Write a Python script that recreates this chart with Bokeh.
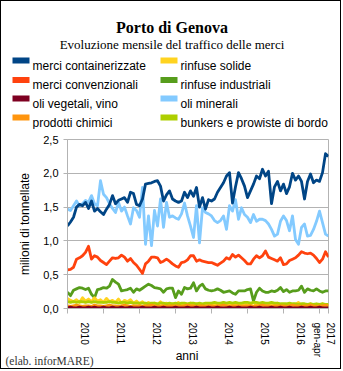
import math
from bokeh.plotting import figure
from bokeh.core.properties import value
from bokeh.models import (FixedTicker, CustomJSTickFormatter, Range1d, ColumnDataSource)
from bokeh.embed import file_html
from bokeh.resources import INLINE

# ---------------- data (milioni di tonnellate, monthly Jan 2010 - Apr 2017) -------------
months = list(range(88))
year_labels = ["2010", "2011", "2012", "2013", "2014", "2015", "2016", "2017\ngen-apr"]
year_label_pos = [5.5, 17.5, 29.5, 41.5, 53.5, 65.5, 77.5, 85.5]
year_bounds = [0, 12, 24, 36, 48, 60, 72, 84, 87]
y_ticks = [0, 0.5, 1.0, 1.5, 2.0, 2.5]

merci_containerizzate = [
    1.22, 1.28, 1.35, 1.50, 1.54, 1.52, 1.57, 1.48, 1.59, 1.44, 1.48, 1.43,
    1.39, 1.47, 1.54, 1.67, 1.55, 1.60, 1.62, 1.64, 1.57, 1.72, 1.70, 1.54,
    1.52, 1.62, 1.84, 1.85, 1.86, 1.88, 1.89, 1.81, 1.59, 1.68, 1.74, 1.62,
    1.59, 1.57, 1.59, 1.72, 1.64, 1.74, 1.66, 1.79, 1.50, 1.64, 1.47, 1.61,
    1.59, 1.62, 1.72, 1.79, 1.86, 1.96, 2.01, 1.56, 1.80, 2.01, 1.92, 1.81,
    1.64, 1.74, 1.84, 1.96, 1.92, 2.06, 1.96, 2.03, 1.55, 1.80, 1.88, 1.74,
    1.84, 1.70, 1.80, 2.00, 1.90, 1.96, 1.88, 1.62, 1.88, 1.99, 1.86, 1.90,
    1.88, 2.01, 2.29, 2.25]

oli_minerali = [
    1.47, 1.45, 1.52, 1.59, 1.52, 1.55, 1.60, 1.57, 1.67, 1.55, 1.52, 1.89,
    1.69, 1.64, 1.55, 1.48, 1.42, 1.57, 1.44, 1.50, 1.37, 1.25, 1.49, 1.45,
    1.35, 1.79, 0.95, 1.37, 0.93, 1.45, 1.22, 1.62, 1.20, 1.57, 1.35, 1.37,
    1.34, 1.32, 1.40, 1.56, 1.37, 1.22, 1.05, 1.52, 0.97, 1.49, 1.42, 1.40,
    1.37, 1.30, 1.27, 1.30, 1.37, 1.17, 1.52, 1.44, 1.61, 1.32, 1.49, 1.39,
    1.35, 1.27, 1.39, 1.29, 1.32, 1.32, 1.30, 1.25, 1.17, 1.07, 1.10, 1.29,
    1.37, 1.30, 1.15, 1.37, 1.02, 0.95, 1.20, 1.25, 1.07, 1.08, 1.17, 1.29,
    1.44, 1.27, 1.10, 1.07]

merci_convenzionali = [
    0.57, 0.58, 0.61, 0.73, 0.75, 0.78, 0.83, 0.92, 0.73, 0.78, 0.76, 0.71,
    0.68, 0.65, 0.70, 0.75, 0.74, 0.75, 0.79, 0.76, 0.70, 0.74, 0.68, 0.64,
    0.58, 0.52, 0.66, 0.70, 0.76, 0.76, 0.75, 0.68, 0.70, 0.73, 0.70, 0.66,
    0.63, 0.61, 0.68, 0.69, 0.72, 0.78, 0.78, 0.70, 0.72, 0.70, 0.69, 0.68,
    0.68, 0.66, 0.64, 0.67, 0.70, 0.75, 0.73, 0.80, 0.76, 0.79, 0.75, 0.71,
    0.66, 0.66, 0.73, 0.78, 0.75, 0.78, 0.85, 0.76, 0.74, 0.72, 0.70, 0.75,
    0.65, 0.66, 0.71, 0.73, 0.75, 0.79, 0.84, 0.82, 0.81, 0.82, 0.79, 0.74,
    0.68, 0.73, 0.84, 0.76]

rinfuse_industriali = [
    0.24, 0.19, 0.27, 0.29, 0.31, 0.30, 0.28, 0.30, 0.21, 0.16, 0.28, 0.29,
    0.31, 0.30, 0.33, 0.43, 0.39, 0.36, 0.26, 0.27, 0.28, 0.30, 0.24, 0.29,
    0.27, 0.30, 0.33, 0.36, 0.34, 0.31, 0.30, 0.29, 0.24, 0.29, 0.30, 0.30,
    0.16, 0.26, 0.21, 0.31, 0.29, 0.30, 0.38, 0.26, 0.33, 0.36, 0.29, 0.27,
    0.26, 0.27, 0.29, 0.27, 0.24, 0.25, 0.26, 0.23, 0.21, 0.26, 0.26, 0.26,
    0.28, 0.29, 0.11, 0.24, 0.30, 0.26, 0.24, 0.24, 0.26, 0.25, 0.27, 0.31,
    0.25, 0.28, 0.24, 0.26, 0.26, 0.27, 0.33, 0.24, 0.29, 0.27, 0.26, 0.29,
    0.26, 0.24, 0.26, 0.26]

rinfuse_solide = [
    0.15, 0.12, 0.10, 0.13, 0.09, 0.16, 0.11, 0.14, 0.10, 0.16, 0.11, 0.13,
    0.09, 0.15, 0.10, 0.12, 0.09, 0.14, 0.08, 0.12, 0.10, 0.13, 0.08, 0.11,
    0.07, 0.10, 0.06, 0.09, 0.07, 0.08, 0.06, 0.10, 0.06, 0.08, 0.05, 0.07,
    0.06, 0.09, 0.05, 0.07, 0.06, 0.08, 0.05, 0.07, 0.05, 0.06, 0.05, 0.07,
    0.05, 0.06, 0.07, 0.05, 0.09, 0.05, 0.06, 0.05, 0.07, 0.05, 0.06, 0.08,
    0.05, 0.06, 0.09, 0.05, 0.06, 0.05, 0.07, 0.05, 0.06, 0.05, 0.08, 0.05,
    0.06, 0.05, 0.07, 0.05, 0.06, 0.09, 0.05, 0.06, 0.05, 0.07, 0.05, 0.06,
    0.05, 0.07, 0.05, 0.06]

bunkers = [
    0.10, 0.09, 0.10, 0.09, 0.10, 0.10, 0.09, 0.10, 0.09, 0.10, 0.09, 0.09,
    0.09, 0.09, 0.10, 0.09, 0.09, 0.08, 0.09, 0.09, 0.08, 0.09, 0.08, 0.08,
    0.08, 0.08, 0.08, 0.07, 0.08, 0.08, 0.07, 0.08, 0.08, 0.07, 0.08, 0.07,
    0.08, 0.07, 0.08, 0.08, 0.07, 0.08, 0.08, 0.07, 0.08, 0.07, 0.08, 0.08,
    0.08, 0.09, 0.08, 0.08, 0.09, 0.08, 0.09, 0.08, 0.09, 0.08, 0.08, 0.09,
    0.09, 0.08, 0.09, 0.09, 0.08, 0.09, 0.08, 0.08, 0.09, 0.08, 0.08, 0.07,
    0.07, 0.07, 0.08, 0.07, 0.07, 0.06, 0.07, 0.07, 0.06, 0.07, 0.06, 0.07,
    0.06, 0.07, 0.06, 0.06]

prodotti_chimici = [
    0.04, 0.03, 0.04, 0.05, 0.04, 0.03, 0.04, 0.04, 0.03, 0.05, 0.04, 0.04,
    0.03, 0.04, 0.05, 0.04, 0.04, 0.03, 0.04, 0.05, 0.04, 0.03, 0.04, 0.04,
    0.04, 0.03, 0.04, 0.04, 0.05, 0.04, 0.03, 0.04, 0.04, 0.03, 0.04, 0.04,
    0.04, 0.04, 0.03, 0.04, 0.05, 0.04, 0.04, 0.03, 0.04, 0.04, 0.03, 0.04,
    0.04, 0.03, 0.04, 0.04, 0.05, 0.04, 0.03, 0.04, 0.04, 0.04, 0.03, 0.04,
    0.04, 0.04, 0.03, 0.04, 0.04, 0.05, 0.04, 0.04, 0.03, 0.04, 0.04, 0.04,
    0.04, 0.03, 0.04, 0.05, 0.04, 0.04, 0.03, 0.04, 0.04, 0.05, 0.04, 0.03,
    0.04, 0.04, 0.05, 0.04]

oli_vegetali_vino = [
    0.01, 0.02, 0.01, 0.01, 0.02, 0.01, 0.01, 0.02, 0.01, 0.02, 0.01, 0.01,
    0.02, 0.01, 0.01, 0.02, 0.01, 0.01, 0.02, 0.01, 0.01, 0.02, 0.01, 0.01,
    0.01, 0.02, 0.01, 0.01, 0.01, 0.02, 0.01, 0.01, 0.02, 0.01, 0.01, 0.01,
    0.02, 0.01, 0.01, 0.01, 0.02, 0.01, 0.01, 0.02, 0.01, 0.01, 0.01, 0.02,
    0.01, 0.01, 0.02, 0.01, 0.01, 0.01, 0.02, 0.01, 0.01, 0.02, 0.01, 0.01,
    0.01, 0.02, 0.01, 0.01, 0.02, 0.01, 0.01, 0.01, 0.02, 0.01, 0.01, 0.02,
    0.01, 0.01, 0.02, 0.01, 0.01, 0.01, 0.02, 0.01, 0.01, 0.02, 0.01, 0.01,
    0.02, 0.01, 0.01, 0.01]

title_text = "Porto di Genova"
subtitle_text = "Evoluzione mensile del traffico delle merci"
x_axis_title = "anni"
y_axis_title = "milioni di tonnellate"
source_note = "(elab. inforMARE)"

legend_col1 = ["merci containerizzate", "merci convenzionali", "oli vegetali, vino",
               "prodotti chimici"]
legend_col2 = ["rinfuse solide", "rinfuse industriali", "oli minerali",
               "bunkers e prowiste di bordo"]
colors = {"merci containerizzate": "#004586", "merci convenzionali": "#ff420e",
          "oli vegetali, vino": "#7e0021", "prodotti chimici": "#ff950e",
          "rinfuse solide": "#ffd320", "rinfuse industriali": "#579d1c",
          "oli minerali": "#83caff", "bunkers e prowiste di bordo": "#aecf00"}
values = {"merci containerizzate": merci_containerizzate,
          "merci convenzionali": merci_convenzionali,
          "oli vegetali, vino": oli_vegetali_vino,
          "prodotti chimici": prodotti_chimici,
          "rinfuse solide": rinfuse_solide,
          "rinfuse industriali": rinfuse_industriali,
          "oli minerali": oli_minerali,
          "bunkers e prowiste di bordo": bunkers}

W = 341
H_HEAD = 129
H_CHART = 240
H_FOOT = 24


def blank_figure(h, transparent=False):
    f = figure(width=W, height=h, output_backend="svg", toolbar_location=None,
               title_location=None,
               x_range=Range1d(0, W), y_range=Range1d(h, 0),
               min_border=0, min_border_left=0, min_border_right=0,
               min_border_top=0, min_border_bottom=0)
    f.axis.visible = False
    f.grid.visible = False
    f.outline_line_color = None
    if transparent:
        f.background_fill_alpha = 0
        f.border_fill_alpha = 0
    else:
        f.background_fill_color = "white"
        f.border_fill_color = "white"
    return f


# ---------------- header: title, subtitle, legend (1 data unit = 1 px) ----------------
head = blank_figure(H_HEAD)
head.styles = {"vertical-align": "top", "border-top": "1px solid black",
               "border-left": "1px solid black", "border-right": "1px solid black"}
head.text(x=[170.5], y=[25.5], text=[title_text], text_align="center",
          text_baseline="alphabetic", text_font=value("Liberation Serif"),
          text_font_style="bold", text_font_size="16px", text_color="black")
head.text(x=[170.5], y=[43], text=[subtitle_text], text_align="center",
          text_baseline="alphabetic", text_font=value("Liberation Serif"),
          text_font_size="13px", text_color="black")

row_centers = [59, 78.5, 97, 116]
for col_names, sw_left in ((legend_col1, 11), (legend_col2, 159)):
    lsrc = ColumnDataSource(dict(
        left=[sw_left] * len(col_names), right=[sw_left + 17] * len(col_names),
        top=[c - 3 for c in row_centers], bottom=[c + 3 for c in row_centers],
        color=[colors[n] for n in col_names],
        tx=[sw_left + 20] * len(col_names), ty=[c + 5 for c in row_centers],
        label=col_names))
    head.quad(left="left", right="right", top="top", bottom="bottom", source=lsrc,
              fill_color="color", line_color=None)
    head.text(x="tx", y="ty", text="label", source=lsrc, text_align="left",
              text_baseline="alphabetic", text_font=value("Liberation Sans"),
              text_font_size="12px", text_color="black")

# ---------------- chart ----------------
p = figure(width=W, height=H_CHART, output_backend="svg", toolbar_location=None,
           title_location=None,
           x_range=Range1d(0, 87), y_range=Range1d(0, 2.5),
           min_border_left=66, min_border_right=14, min_border_top=10,
           min_border_bottom=61, background_fill_color="white",
           border_fill_color="white")
p.styles = {"vertical-align": "top", "border-bottom": "1px solid black",
            "border-left": "1px solid black", "border-right": "1px solid black"}
p.outline_line_color = "#b3b3b3"
p.xgrid.visible = False
p.ygrid.grid_line_color = "#b3b3b3"
p.ygrid.ticker = FixedTicker(ticks=y_ticks)

p.yaxis.ticker = FixedTicker(ticks=y_ticks)
p.yaxis.formatter = CustomJSTickFormatter(code="return tick.toFixed(1).replace('.', ',');")
p.yaxis.axis_line_color = "#b3b3b3"
p.yaxis.major_tick_line_color = "#b3b3b3"
p.yaxis.major_tick_out = 4
p.yaxis.major_tick_in = 0
p.yaxis.minor_tick_line_color = None
p.yaxis.major_label_standoff = 5
p.yaxis.major_label_text_font = "Liberation Sans"
p.yaxis.major_label_text_font_size = "11px"
p.yaxis.major_label_text_color = "black"
p.yaxis.axis_label = y_axis_title
p.yaxis.axis_label_text_font = "Liberation Sans"
p.yaxis.axis_label_text_font_size = "12px"
p.yaxis.axis_label_text_font_style = "normal"
p.yaxis.axis_label_text_color = "black"
p.yaxis.axis_label_standoff = 8

p.xaxis.ticker = FixedTicker(ticks=year_label_pos, minor_ticks=year_bounds)
p.xaxis.formatter = CustomJSTickFormatter(args=dict(labels=year_labels),
                                          code="return labels[index];")
p.xaxis.axis_line_color = "#b3b3b3"
p.xaxis.major_tick_line_color = None
p.xaxis.major_tick_out = 0
p.xaxis.major_tick_in = 0
p.xaxis.minor_tick_line_color = "#b3b3b3"
p.xaxis.minor_tick_out = 5
p.xaxis.minor_tick_in = 0
p.xaxis.major_label_orientation = -math.pi / 2
p.xaxis.major_label_standoff = 9
p.xaxis.major_label_text_font = "Liberation Sans"
p.xaxis.major_label_text_font_size = "10px"
p.xaxis.major_label_text_color = "black"

draw_order = ["oli minerali", "merci containerizzate", "merci convenzionali",
              "rinfuse industriali", "rinfuse solide", "bunkers e prowiste di bordo",
              "prodotti chimici", "oli vegetali, vino"]
for name in draw_order:
    src = ColumnDataSource(dict(x=months, y=values[name]))
    p.line("x", "y", source=src, line_color=colors[name], line_width=2.8,
           line_join="round")

# ---------------- footer overlay (transparent, over the chart's bottom strip) ----------
foot = blank_figure(H_FOOT, transparent=True)
foot.styles = {"vertical-align": "top", "margin-left": "1px",
               "margin-top": "-%dpx" % (H_FOOT + 1)}
foot.text(x=[185.5], y=[11], text=[x_axis_title], text_align="center",
          text_baseline="alphabetic", text_font=value("Liberation Sans"),
          text_font_size="12px", text_color="black")
foot.text(x=[4], y=[16], text=[source_note], text_align="left",
          text_baseline="alphabetic", text_font=value("Liberation Serif"),
          text_font_size="11.5px", text_color="#333333")

open("out.html", "w").write(file_html([head, p, foot], INLINE))
